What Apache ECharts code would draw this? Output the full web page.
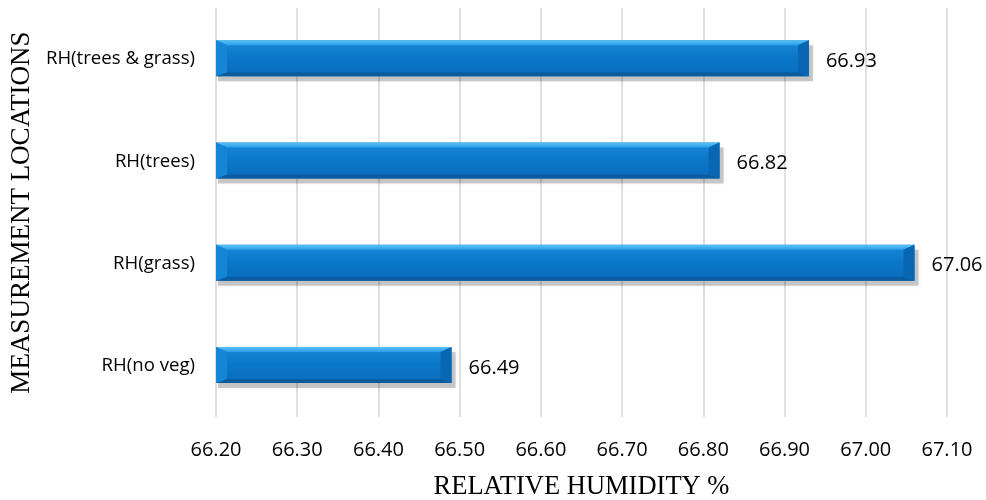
<!DOCTYPE html>
<html>
<head>
<meta charset="utf-8">
<script src="https://cdn.jsdelivr.net/npm/echarts@6/dist/echarts.min.js"></script>
<style>
  html, body { margin: 0; padding: 0; background: #ffffff; }
  #chart { width: 986px; height: 500px; }
</style>
</head>
<body>
<div id="chart"></div>
<script>
// Measurement locations (bottom to top) and mean relative humidity
const locations = ['RH(no veg)', 'RH(grass)', 'RH(trees)', 'RH(trees & grass)'];
const humidity = [66.49, 67.06, 66.82, 66.93];

// Value axis range and step
const axisMin = 66.2;
const axisMax = 67.1;
const axisStep = 0.1;

const chart = echarts.init(document.getElementById('chart'));

// Bevelled bar: face, lighter top edge, darker lower edge, end caps and a soft drop shadow
function renderBevelBar(params, api) {
  const idx = api.value(0);
  const val = api.value(1);
  const start = api.coord([axisMin, idx]);
  const end = api.coord([val, idx]);
  const h = 36;
  const x0 = start[0];
  const x1 = end[0];
  const y0 = start[1] - h / 2 - 1;
  const y1 = y0 + h;
  const bx = 11;   // horizontal bevel depth
  const bt = 5;    // top bevel depth
  const bb = 4;    // bottom bevel depth
  return {
    type: 'group',
    children: [
      {
        type: 'rect',
        shape: { x: x0 + 2, y: y0 + 5, width: x1 - x0 + 2, height: h },
        style: { fill: 'rgba(0,0,0,0.2)', shadowBlur: 6, shadowColor: 'rgba(0,0,0,0.25)' },
        z2: 0
      },
      {
        type: 'rect',
        shape: { x: x0, y: y0, width: x1 - x0, height: h },
        style: {
          fill: new echarts.graphic.LinearGradient(0, 0, 0, 1, [
            { offset: 0, color: '#1a8ad8' },
            { offset: 0.5, color: '#0b76c9' },
            { offset: 1, color: '#0a6dbd' }
          ])
        },
        z2: 1
      },
      {
        type: 'polygon',
        shape: { points: [[x0, y0], [x1, y0], [x1 - bx, y0 + bt], [x0 + bx, y0 + bt]] },
        style: {
          fill: new echarts.graphic.LinearGradient(0, 0, 0, 1, [
            { offset: 0, color: '#5cc2f7' },
            { offset: 1, color: '#2b9fe9' }
          ])
        },
        z2: 2
      },
      {
        type: 'polygon',
        shape: { points: [[x0, y1], [x1, y1], [x1 - bx, y1 - bb], [x0 + bx, y1 - bb]] },
        style: { fill: '#0a5c9f' },
        z2: 2
      },
      {
        type: 'polygon',
        shape: { points: [[x0, y0], [x0 + bx, y0 + bt], [x0 + bx, y1 - bb], [x0, y1]] },
        style: { fill: '#1585d6' },
        z2: 2
      },
      {
        type: 'polygon',
        shape: { points: [[x1, y0], [x1 - bx, y0 + bt], [x1 - bx, y1 - bb], [x1, y1]] },
        style: { fill: '#0966b3' },
        z2: 2
      },
      {
        type: 'text',
        x: x1 + 17,
        y: start[1] + 2,
        style: {
          text: val.toFixed(2),
          fontFamily: 'Open Sans',
          fontSize: 20,
          fill: '#000000',
          verticalAlign: 'middle',
          align: 'left'
        },
        z2: 3
      }
    ]
  };
}

chart.setOption({
  backgroundColor: '#ffffff',
  animation: false,
  grid: { left: 216, right: 39, top: 8, bottom: 83, containLabel: false, outerBoundsMode: 'none' },
  xAxis: {
    type: 'value',
    min: axisMin,
    max: axisMax,
    interval: axisStep,
    axisLine: { show: false },
    axisTick: { show: false },
    splitLine: { show: true, lineStyle: { color: '#d6d6d6', width: 1.5 } },
    axisLabel: {
      formatter: v => v.toFixed(2),
      fontFamily: 'Open Sans',
      fontSize: 20,
      color: '#000000',
      margin: 23
    },
    name: 'RELATIVE HUMIDITY %',
    nameLocation: 'middle',
    nameGap: 57,
    nameTextStyle: { fontFamily: 'Liberation Serif', fontSize: 26.5, color: '#000000' }
  },
  yAxis: {
    type: 'category',
    data: locations,
    axisLine: { show: false },
    axisTick: { show: false },
    splitLine: { show: false },
    axisLabel: {
      fontFamily: 'Open Sans',
      fontSize: 18.6,
      color: '#000000',
      margin: 21
    },
    name: 'MEASUREMENT LOCATIONS',
    nameLocation: 'middle',
    nameGap: 168,
    nameTextStyle: { fontFamily: 'Liberation Serif', fontSize: 27, color: '#000000' }
  },
  series: [{
    type: 'custom',
    renderItem: renderBevelBar,
    encode: { x: 1, y: 0 },
    data: humidity.map((v, i) => [i, v])
  }]
});
</script>
</body>
</html>
